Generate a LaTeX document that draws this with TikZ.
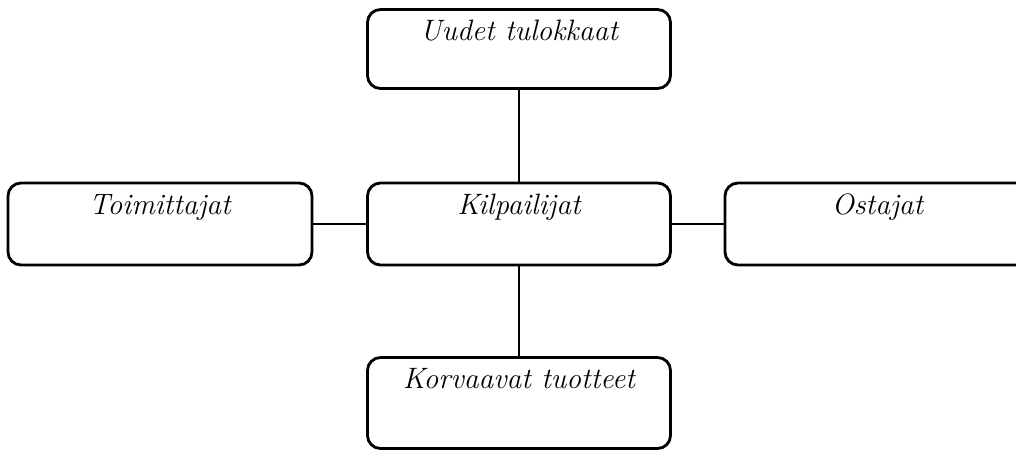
\documentclass[tikz,border=0pt]{standalone}
\begin{document}
\begin{tikzpicture}[x=1pt,y=-1pt,
  force/.style={draw, line width=2.8pt, rounded corners=13pt, inner xsep=0pt, inner ysep=0pt,
    minimum width=#1, text height=31pt, font=\fontsize{29.5}{34}\selectfont\itshape},
  link/.style={line width=2.8pt}]
  \useasboundingbox (0,0) rectangle (1016,451);
  \clip (0,0) rectangle (1016,451);
  \node[force=303pt, text depth=48pt] (new) at (519,49) {Uudet tulokkaat};
  \node[force=304pt, text depth=51pt] (sup) at (160,224) {Toimittajat};
  \node[force=303pt, text depth=51pt] (riv) at (519,224) {Kilpailijat};
  \node[force=305pt, text depth=51pt] (buy) at (877.5,224) {Ostajat};
  \node[force=303pt, text depth=60pt] (sub) at (519,403) {Korvaavat tuotteet};
  \draw[link] (new) -- (riv);
  \draw[link] (riv) -- (sub);
  \draw[link] (sup) -- (riv);
  \draw[link] (riv) -- (buy);
\end{tikzpicture}
\end{document}
